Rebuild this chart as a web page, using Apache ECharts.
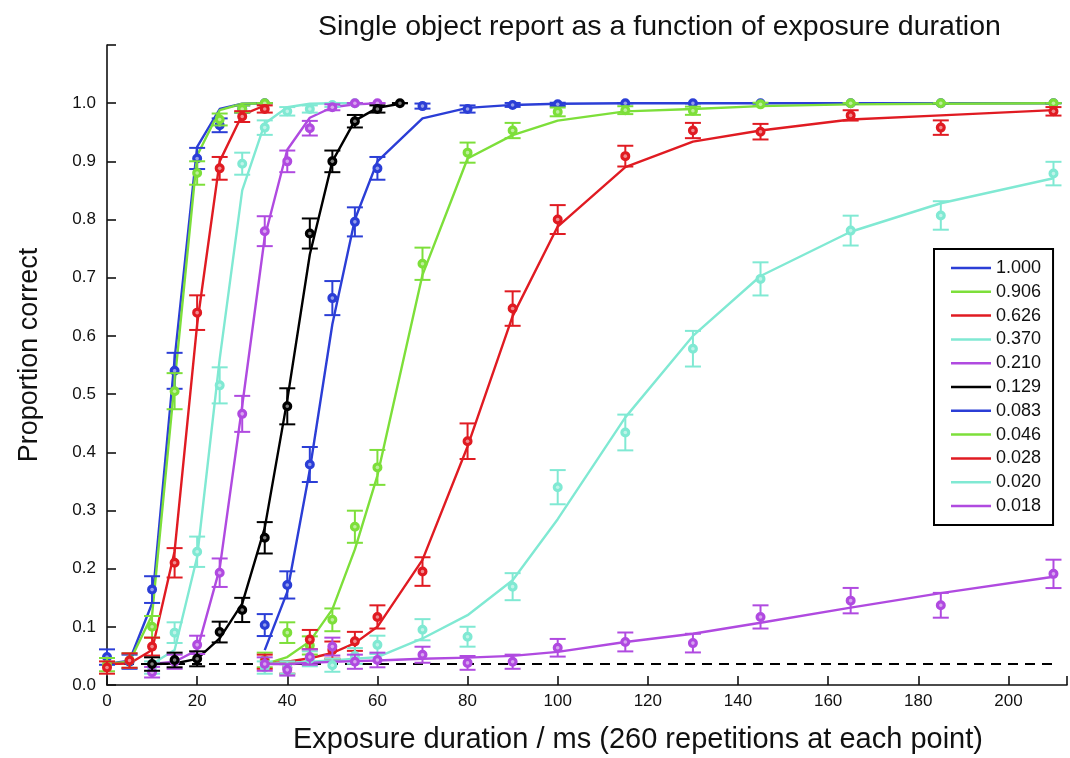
<!DOCTYPE html>
<html>
<head>
<meta charset="utf-8">
<script src="https://cdn.jsdelivr.net/npm/echarts@6/dist/echarts.min.js"></script>
<style>
html,body{margin:0;padding:0;background:#ffffff;}
#chart{width:1070px;height:758px;}
</style>
</head>
<body>
<div id="chart"></div>
<script>
// ---------- data ----------
const titleText = 'Single object report as a function of exposure duration';
const xAxisTitle = 'Exposure duration / ms (260 repetitions at each point)';
const yAxisTitle = 'Proportion correct';
const repetitions = 260;
const chanceLevel = 0.036;
const chanceRange = [0, 210];

const seriesNames = ['1.000','0.906','0.626','0.370','0.210','0.129','0.083','0.046','0.028','0.020','0.018'];

const durationsFast = [0, 5, 10, 15, 20, 25, 30, 35];
const durations370 = [10, 15, 20, 25, 30, 35, 40, 45, 50, 55];
const durations210 = [10, 15, 20, 25, 30, 35, 40, 45, 50, 55, 60];
const durations129 = [10, 15, 20, 25, 30, 35, 40, 45, 50, 55, 60, 65];
const durationsSlow = [35, 40, 45, 50, 55, 60, 70, 80, 90, 100, 115, 130, 145, 165, 185, 210];

// observed proportion correct
const obs1000 = [0.048, 0.040, 0.164, 0.540, 0.905, 0.962, 0.990, 1.000];
const obs0906 = [0.035, 0.042, 0.100, 0.505, 0.880, 0.972, 0.990, 1.000];
const obs0626 = [0.030, 0.042, 0.066, 0.210, 0.640, 0.888, 0.977, 0.990];
const obs0370 = [0.030, 0.090, 0.229, 0.515, 0.896, 0.958, 0.986, 0.990, 0.997, 1.000];
const obs0210 = [0.022, 0.040, 0.069, 0.193, 0.466, 0.780, 0.900, 0.957, 0.993, 1.000, 1.000];
const obs0129 = [0.036, 0.043, 0.045, 0.091, 0.129, 0.253, 0.479, 0.776, 0.900, 0.969, 0.990, 1.000];
const obs0083 = [0.103, 0.172, 0.379, 0.665, 0.796, 0.888, 0.995, 0.990, 0.997, 0.998, 1.000, 1.000, 1.000, 1.000, 1.000, 1.000];
const obs0046 = [0.043, 0.090, 0.068, 0.112, 0.272, 0.374, 0.724, 0.915, 0.953, 0.985, 0.988, 0.987, 0.998, 1.000, 1.000, 1.000];
const obs0028 = [0.040, 0.030, 0.078, 0.060, 0.075, 0.117, 0.195, 0.419, 0.647, 0.800, 0.909, 0.953, 0.951, 0.979, 0.958, 0.986];
const obs0020 = [0.030, 0.030, 0.045, 0.034, 0.050, 0.069, 0.095, 0.083, 0.169, 0.340, 0.434, 0.578, 0.698, 0.781, 0.807, 0.879];
const obs0018 = [0.036, 0.026, 0.048, 0.066, 0.040, 0.043, 0.052, 0.038, 0.040, 0.064, 0.074, 0.072, 0.117, 0.145, 0.137, 0.191];

// fitted curve values at the same durations
const fit1000 = [0.036, 0.042, 0.140, 0.560, 0.925, 0.990, 0.999, 1.000];
const fit0906 = [0.036, 0.040, 0.120, 0.520, 0.910, 0.988, 0.999, 1.000];
const fit0626 = [0.036, 0.037, 0.060, 0.230, 0.620, 0.900, 0.980, 0.996];
const fit0370 = [0.036, 0.060, 0.220, 0.560, 0.850, 0.965, 0.993, 0.999, 1.000, 1.000];
const fit0210 = [0.036, 0.040, 0.060, 0.200, 0.480, 0.770, 0.920, 0.975, 0.993, 0.998, 1.000];
const fit0129 = [0.036, 0.037, 0.045, 0.080, 0.140, 0.270, 0.490, 0.740, 0.900, 0.970, 0.992, 0.999];
const fit0083 = [0.060, 0.160, 0.370, 0.620, 0.800, 0.900, 0.974, 0.992, 0.997, 0.999, 1.000, 1.000, 1.000, 1.000, 1.000, 1.000];
const fit0046 = [0.036, 0.048, 0.075, 0.130, 0.233, 0.360, 0.705, 0.905, 0.945, 0.970, 0.986, 0.990, 0.995, 0.998, 0.999, 1.000];
const fit0028 = [0.036, 0.040, 0.046, 0.055, 0.072, 0.100, 0.215, 0.410, 0.634, 0.788, 0.890, 0.934, 0.953, 0.972, 0.979, 0.988];
const fit0020 = [0.036, 0.038, 0.040, 0.042, 0.045, 0.048, 0.080, 0.120, 0.180, 0.285, 0.460, 0.600, 0.703, 0.779, 0.828, 0.871];
const fit0018 = [0.036, 0.036, 0.038, 0.040, 0.041, 0.042, 0.045, 0.047, 0.050, 0.057, 0.074, 0.088, 0.107, 0.133, 0.158, 0.186];

const seriesDurations = [durationsFast, durationsFast, durationsFast, durations370, durations210, durations129,
  durationsSlow, durationsSlow, durationsSlow, durationsSlow, durationsSlow];
const seriesObserved = [obs1000, obs0906, obs0626, obs0370, obs0210, obs0129, obs0083, obs0046, obs0028, obs0020, obs0018];
const seriesFitted = [fit1000, fit0906, fit0626, fit0370, fit0210, fit0129, fit0083, fit0046, fit0028, fit0020, fit0018];

// ---------- styling ----------
const BLUE = '#2b3ed6', GREEN = '#7ddf3a', RED = '#e01b22', CYAN = '#80e9d3', PURPLE = '#b04ae0', BLACK = '#000000';
const seriesColors = [BLUE, GREEN, RED, CYAN, PURPLE, BLACK, BLUE, GREEN, RED, CYAN, PURPLE];
const FONT = '"Liberation Sans", Arial, Helvetica, sans-serif';

function zip(xs, ys) { return xs.map((x, i) => [x, ys[i]]); }

function renderErrorPoint(params, api) {
  const x = api.value(0);
  const p = api.value(1);
  const se = Math.sqrt(Math.max(p * (1 - p), 0) / repetitions);
  const c = api.coord([x, p]);
  const top = api.coord([x, p + se]);
  const bot = api.coord([x, p - se]);
  const half = 8;
  const color = api.visual('color');
  const st = { stroke: color, lineWidth: 2, fill: null };
  return {
    type: 'group',
    children: [
      { type: 'line', shape: { x1: c[0], y1: top[1], x2: c[0], y2: bot[1] }, style: st },
      { type: 'line', shape: { x1: c[0] - half, y1: top[1], x2: c[0] + half, y2: top[1] }, style: st },
      { type: 'line', shape: { x1: c[0] - half, y1: bot[1], x2: c[0] + half, y2: bot[1] }, style: st },
      { type: 'circle', shape: { cx: c[0], cy: c[1], r: 4 }, style: { stroke: color, lineWidth: 2, fill: color } },
      { type: 'circle', shape: { cx: c[0], cy: c[1], r: 1.8 }, style: { fill: 'rgba(255,255,255,0.5)', stroke: null } }
    ]
  };
}

const series = [];
seriesNames.forEach((name, i) => {
  series.push({
    name: name,
    type: 'line',
    data: zip(seriesDurations[i], seriesFitted[i]),
    showSymbol: false,
    symbol: 'none',
    color: seriesColors[i],
    lineStyle: { width: 2.4, color: seriesColors[i] },
    z: 3,
    animation: false
  });
  series.push({
    name: name,
    type: 'custom',
    data: zip(seriesDurations[i], seriesObserved[i]),
    renderItem: renderErrorPoint,
    encode: { x: 0, y: 1 },
    color: seriesColors[i],
    itemStyle: { color: seriesColors[i] },
    z: 4,
    animation: false
  });
});
series.push({
  name: 'chance',
  type: 'line',
  data: [[chanceRange[0], chanceLevel], [chanceRange[1], chanceLevel]],
  symbol: 'none',
  lineStyle: { color: BLACK, width: 2, type: [10, 7] },
  z: 2,
  animation: false
});

const chart = echarts.init(document.getElementById('chart'), null, { renderer: 'canvas' });
chart.setOption({
  backgroundColor: '#ffffff',
  animation: false,
  title: {
    text: titleText,
    left: 313,
    top: 8,
    textStyle: { fontFamily: FONT, fontSize: 28.5, fontWeight: 'normal', color: '#111' }
  },
  grid: { left: 107, right: 0, top: 45, bottom: 73, containLabel: false },
  xAxis: {
    type: 'value',
    min: 0,
    max: 213,
    interval: 20,
    axisLine: { show: true, lineStyle: { color: '#111', width: 1.6 } },
    axisTick: { show: true, inside: true, length: 9, lineStyle: { color: '#111', width: 1.6 } },
    splitLine: { show: false },
    axisLabel: {
      margin: 8,
      fontFamily: FONT, fontSize: 17, color: '#111',
      formatter: v => (v % 20 === 0 ? String(v) : '')
    }
  },
  yAxis: {
    type: 'value',
    min: 0,
    max: 1.1,
    interval: 0.1,
    axisLine: { show: true, lineStyle: { color: '#111', width: 1.6 } },
    axisTick: { show: true, inside: true, length: 9, lineStyle: { color: '#111', width: 1.6 } },
    splitLine: { show: false },
    axisLabel: {
      margin: 11,
      fontFamily: FONT, fontSize: 17, color: '#111',
      formatter: v => (v > 1.05 ? '' : v.toFixed(1))
    }
  },
  legend: {
    data: seriesNames,
    orient: 'vertical',
    left: 934,
    top: 249,
    icon: 'rect',
    itemWidth: 40,
    itemHeight: 2.5,
    itemGap: 5.8,
    padding: [10, 12, 10, 17],
    borderColor: '#000',
    borderWidth: 2,
    backgroundColor: '#fff',
    textStyle: { fontFamily: FONT, fontSize: 18, color: '#111', padding: [0, 0, 0, 0] }
  },
  graphic: [
    {
      type: 'text',
      left: 293,
      top: 725,
      style: { text: xAxisTitle, font: '29px ' + FONT, fill: '#111' }
    },
    {
      type: 'text',
      x: 30,
      y: 355,
      rotation: Math.PI / 2,
      style: { text: yAxisTitle, font: '27px ' + FONT, fill: '#111', align: 'center', verticalAlign: 'middle' }
    }
  ],
  series: series
});
</script>
</body>
</html>
